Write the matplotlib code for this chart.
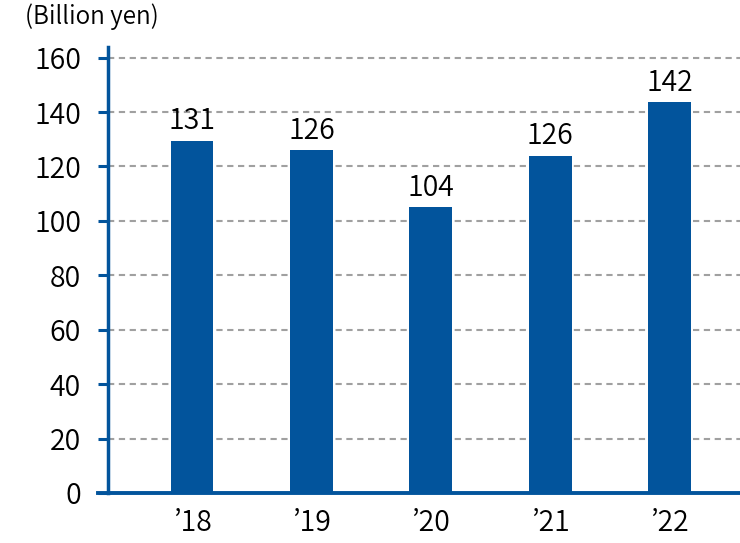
import matplotlib
matplotlib.use("Agg")
import matplotlib.pyplot as plt

plt.rcParams['font.family'] = ['Noto Sans CJK JP', 'DejaVu Sans']

years = ["\u201918", "\u201919", "\u201920", "\u201921", "\u201922"]
heights = [129.5, 126, 105, 124, 143.5]   # bar heights as drawn
labels = ["131", "126", "104", "126", "142"]
yticks = [0, 20, 40, 60, 80, 100, 120, 140, 160]

blue = "#02549C"
w = 350  # between light and regular

fig = plt.figure(figsize=(7.4, 5.43), dpi=100)
ax = fig.add_axes([108/740, 50/543, 632/740, 446.3/543])

x = range(len(years))
bars = ax.bar(x, heights, width=0.36, color=blue, zorder=3)

for b, lab in zip(bars, labels):
    ax.annotate(lab, (b.get_x() + b.get_width()/2, b.get_height()),
                xytext=(0, 3), textcoords="offset points",
                ha="center", va="bottom", fontsize=20.5, fontweight=w)

ax.set_xlim(-0.7035, 4.59)
ax.set_ylim(0, 164)
ax.set_yticks(yticks)
ax.set_xticks(list(x))
ax.set_xticklabels(years)

ax.grid(axis="y", color="#A0A0A0", linestyle=(0, (3, 2.2)), linewidth=1.5, zorder=0)

for s in ["top", "right"]:
    ax.spines[s].set_visible(False)
ax.spines["left"].set_color(blue)
ax.spines["left"].set_linewidth(2.5)
ax.spines["bottom"].set_visible(False)
ax.plot([-10/632, 1], [0, 0], transform=ax.transAxes, color=blue,
        linewidth=2.8, clip_on=False, zorder=4)

ax.tick_params(axis="y", length=7.5, width=2.2, color=blue, pad=12, labelsize=20.5)
ax.tick_params(axis="x", length=0, pad=11, labelsize=20.5)
for t in ax.get_xticklabels() + ax.get_yticklabels():
    t.set_fontweight(w)

fig.text(25/740, 1 - 3/543, "(Billion yen)", ha="left", va="top", fontsize=17.5,
         fontweight=w)

fig.savefig("out.png", dpi=100)
